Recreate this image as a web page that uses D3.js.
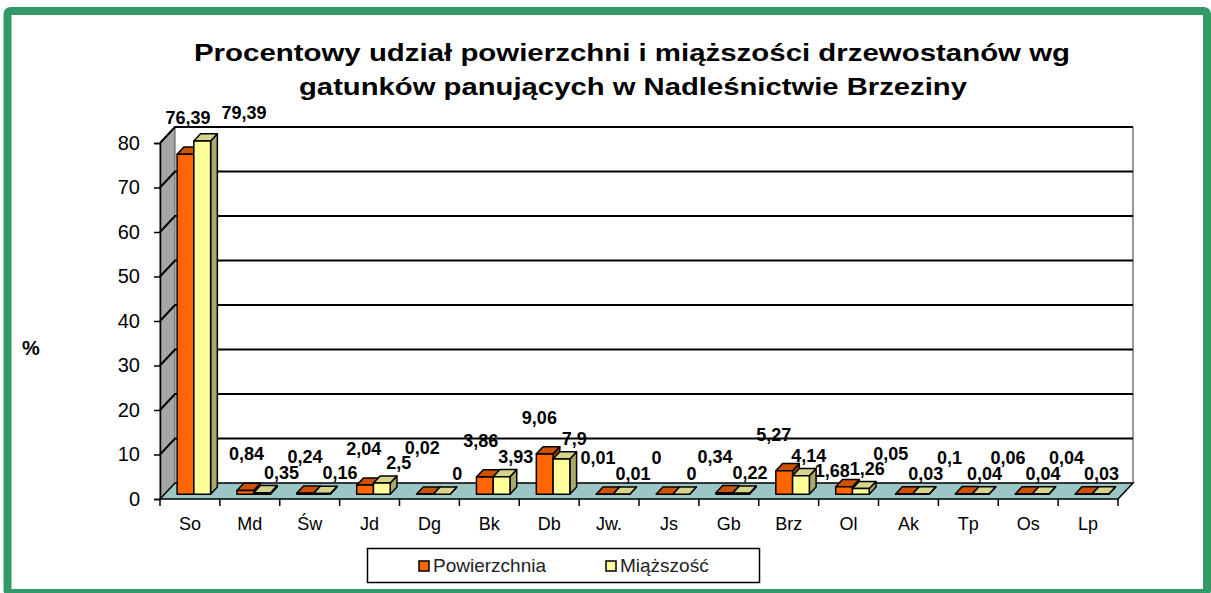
<!DOCTYPE html>
<html>
<head>
<meta charset="utf-8">
<script src="https://cdn.jsdelivr.net/npm/d3@7"></script>
<style>
  body { margin: 0; background: #fff; }
  svg { display: block; font-family: "Liberation Sans", Arial, sans-serif; }
</style>
</head>
<body>
<div id="chart"></div>
<script>
// data
const categories = ["So", "Md", "Św", "Jd", "Dg", "Bk", "Db", "Jw.", "Js", "Gb", "Brz", "Ol", "Ak", "Tp", "Os", "Lp"]
const powierzchnia = [76.39, 0.84, 0.24, 2.04, 0.02, 3.86, 9.06, 0.01, 0, 0.34, 5.27, 1.68, 0.05, 0.1, 0.06, 0.04]
const miazszosc = [79.39, 0.35, 0.16, 2.5, 0, 3.93, 7.9, 0.01, 0, 0.22, 4.14, 1.26, 0.03, 0.04, 0.04, 0.03]
const yTicks = [0, 10, 20, 30, 40, 50, 60, 70, 80]
const seriesNames = ["Powierzchnia", "Miąższość"]

const width = 1211
const height = 593

const svg = d3.select("#chart")
  .append("svg")
    .attr("width", width)
    .attr("height", height)

// frame
svg.append("rect")
  .attr("x", 7.5).attr("y", 11)
  .attr("width", 1199.5).attr("height", 582)
  .attr("rx", 3)
  .attr("fill", "#fff")
  .attr("stroke", "#339966")
  .attr("stroke-width", 8)

// title
const title = svg.append("text")
  .attr("text-anchor", "middle")
  .attr("font-weight", "bold")
  .attr("font-size", 23)
  .attr("fill", "#000")
title.append("tspan").attr("x", 632).attr("y", 61)
  .attr("textLength", 876).attr("lengthAdjust", "spacingAndGlyphs")
  .text("Procentowy udział powierzchni i miąższości drzewostanów wg")
title.append("tspan").attr("x", 633).attr("y", 95)
  .attr("textLength", 668).attr("lengthAdjust", "spacingAndGlyphs")
  .text("gatunków panujących w Nadleśnictwie Brzeziny")

// scales
const xScale = d3.scaleBand()
  .domain(categories)
  .range([160, 1118])

const yScale = d3.scaleLinear()
  .domain([0, 80])
  .range([499, 143])

// depth of the 3d box
const depth = { dx: 15, dy: -16 }
const px = (x, t) => x + depth.dx * t
const py = (y, t) => y + depth.dy * t

const x0 = xScale.range()[0]
const x1 = xScale.range()[1]

// back wall
svg.append("rect")
  .attr("x", px(x0, 1)).attr("y", py(yScale(80), 1))
  .attr("width", x1 - x0)
  .attr("height", yScale(0) - yScale(80))
  .attr("fill", "#fff")
svg.append("line")
  .attr("x1", px(x1, 1)).attr("x2", px(x1, 1))
  .attr("y1", py(yScale(80), 1)).attr("y2", py(yScale(0), 1))
  .attr("stroke", "#999").attr("stroke-width", 2)

// left wall
svg.append("path")
  .attr("d", `M${x0},${yScale(0)} L${x0},${yScale(80)} L${px(x0, 1)},${py(yScale(80), 1)} L${px(x0, 1)},${py(yScale(0), 1)} Z`)
  .attr("fill", "#a6a6a6")
  .attr("stroke", "#555").attr("stroke-width", 1)

// gridlines
const grid = svg.append("g")
grid.selectAll(".gridline")
  .data(yTicks.filter(d => d > 0))
  .join("path")
    .attr("class", "gridline")
    .attr("d", d => `M${x0},${yScale(d)} L${px(x0, 1)},${py(yScale(d), 1)} L${px(x1, 1)},${py(yScale(d), 1)}`)
    .attr("fill", "none")
    .attr("stroke", "#000")
    .attr("stroke-width", 2)

// floor
svg.append("path")
  .attr("d", `M${x0},${yScale(0)} L${px(x0, 1)},${py(yScale(0), 1)} L${px(x1, 1)},${py(yScale(0), 1)} L${x1},${yScale(0)} Z`)
  .attr("fill", "#9cc6c6")
  .attr("stroke", "#000").attr("stroke-width", 1.5)

// y axis
const yAxis = svg.append("g")
  .attr("transform", `translate(${x0},0)`)
  .call(d3.axisLeft(yScale).tickValues(yTicks).tickSize(6).tickPadding(14))
yAxis.select(".domain").attr("stroke", "#000").attr("stroke-width", 1.5)
yAxis.selectAll(".tick line").attr("stroke", "#000").attr("stroke-width", 1.5)
yAxis.selectAll(".tick text")
  .attr("font-size", 20)
  .attr("font-family", "Liberation Sans, Arial, sans-serif")
  .attr("fill", "#000")

svg.append("text")
  .attr("x", 31).attr("y", 355)
  .attr("text-anchor", "middle")
  .attr("font-weight", "bold")
  .attr("font-size", 20)
  .text("%")

// x axis ticks + labels
const bw = xScale.bandwidth()
svg.append("g").selectAll("line")
  .data(d3.range(categories.length + 1))
  .join("line")
    .attr("x1", i => x0 + i * bw).attr("x2", i => x0 + i * bw)
    .attr("y1", yScale(0)).attr("y2", yScale(0) + 7)
    .attr("stroke", "#000").attr("stroke-width", 1.5)

svg.append("g").selectAll("text")
  .data(categories)
  .join("text")
    .attr("x", d => xScale(d) + bw / 2)
    .attr("y", 530)
    .attr("text-anchor", "middle")
    .attr("font-size", 18)
    .text(d => d)

// bars
const barW = bw * 0.28
const barOff = bw * 0.21
const tFront = 0.3
const tBack = 0.75
const series = [
  { values: powierzchnia, front: "#ff6600", top: "#cc5200", side: "#a64200", shift: 0 },
  { values: miazszosc, front: "#ffff99", top: "#d4d48a", side: "#a9a96a", shift: 1 }
]

const bars = svg.append("g")
categories.forEach((c, i) => {
  series.forEach(s => {
    const v = s.values[i]
    const xl = px(xScale(c) + barOff + s.shift * barW, tFront)
    const xr = xl + barW
    const yb = py(yScale(0), tFront)
    const yt = py(yScale(v), tFront)
    const ddx = depth.dx * (tBack - tFront)
    const ddy = depth.dy * (tBack - tFront)
    const g = bars.append("g")
      .attr("stroke", "#000")
      .attr("stroke-width", 1.5)
      .attr("stroke-linejoin", "round")
    g.append("path")
      .attr("d", `M${xr},${yb} L${xr + ddx},${yb + ddy} L${xr + ddx},${yt + ddy} L${xr},${yt} Z`)
      .attr("fill", s.side)
    g.append("path")
      .attr("d", `M${xl},${yt} L${xl + ddx},${yt + ddy} L${xr + ddx},${yt + ddy} L${xr},${yt} Z`)
      .attr("fill", s.top)
    g.append("rect")
      .attr("x", xl).attr("y", yt)
      .attr("width", barW).attr("height", Math.max(0, yb - yt))
      .attr("fill", s.front)
  })
})

// data labels: placed above each bar, then nudged when they collide
const fmt = v => String(v).replace(".", ",")
const labels = svg.append("g")
  .attr("font-size", 18)
  .attr("font-weight", "bold")
  .attr("text-anchor", "middle")

const placed = []
const hh = 7
const yLimit = 476
const hits = (a, b) => a.x0 < b.x1 && b.x0 < a.x1 && a.y0 < b.y1 && b.y0 < a.y1

categories.forEach((c, i) => {
  const cx = xScale(c) + bw / 2
  const items = [
    { v: powierzchnia[i], x: cx - 2 - 1.3 * i, y: py(yScale(powierzchnia[i]), tFront) - 36 },
    { v: miazszosc[i], x: cx + 33 - 1.3 * i, y: py(yScale(miazszosc[i]), tFront) - 20 }
  ]
  items.forEach((d, k) => {
    const t = labels.append("text").text(fmt(d.v))
    const w = t.node().getComputedTextLength()
    const box = () => ({ x0: d.x - w / 2 + 1, x1: d.x + w / 2 - 1, y0: d.y - hh, y1: d.y + hh })
    let guard = 0
    let other = placed.find(p => hits(box(), p))
    while (other && guard < 4) {
      if (k === 1 && other.cat === i && other.tall) {
        d.x = other.x1 + 12 + w / 2
        d.y -= 8
      } else if (other.y1 + hh + 1 <= yLimit) {
        d.y = other.y1 + hh + 1
      } else {
        d.y = other.y0 - hh - 1
      }
      other = placed.find(p => hits(box(), p))
      guard++
    }
    placed.push({ ...box(), cat: i, tall: d.v > 20 })
    t.attr("x", d.x).attr("y", d.y + 6)
  })
})

// legend
const legend = svg.append("g")
legend.append("rect")
  .attr("x", 367.5).attr("y", 548.5)
  .attr("width", 392).attr("height", 34)
  .attr("fill", "#fff")
  .attr("stroke", "#000").attr("stroke-width", 1.5)
const legendItems = [
  { name: seriesNames[0], color: "#ff6600", x: 419 },
  { name: seriesNames[1], color: "#ffff99", x: 606 }
]
legendItems.forEach(d => {
  legend.append("rect")
    .attr("x", d.x).attr("y", 561)
    .attr("width", 10).attr("height", 10)
    .attr("fill", d.color)
    .attr("stroke", "#000").attr("stroke-width", 1.5)
  legend.append("text")
    .attr("x", d.x + 14).attr("y", 572)
    .attr("font-size", 19)
    .attr("fill", "#222")
    .text(d.name)
})
</script>
</body>
</html>
